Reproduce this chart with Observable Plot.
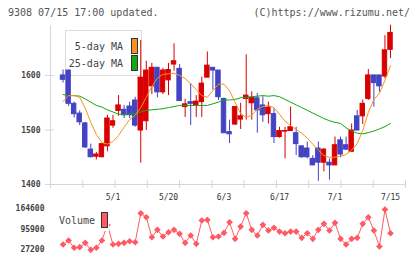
<!DOCTYPE html>
<html>
<head>
<meta charset="utf-8">
<script src="https://cdn.jsdelivr.net/npm/d3@7"></script>
<script src="https://cdn.jsdelivr.net/npm/@observablehq/plot@0.6"></script>
<style>
  html, body { margin: 0; padding: 0; background: #fff; }
  #chart { position: relative; width: 420px; height: 259px; overflow: hidden;
           font-family: "DejaVu Sans Mono", monospace; color: #444; }
  #chart svg { position: absolute; left: 0; top: 0; }
  .hdr { position: absolute; top: 6px; font-size: 10px; line-height: 14px; white-space: pre; color: #555; }
  .legend { position: absolute; left: 65px; top: 30px; width: 77px; height: 46px;
            border: 1px solid #ddd; box-sizing: border-box; }
  .lg-row { position: absolute; right: 18px; font-size: 10px; line-height: 12px; white-space: pre; color: #444; }
  .sw { position: absolute; width: 5px; height: 14px; border: 1px solid #333; }
  .vlegend { position: absolute; left: 57px; top: 211px; width: 52px; height: 20px; background: #fff; }
</style>
</head>
<body>
<div id="chart">
  <div class="hdr" style="left:8px">9308 07/15 17:00 updated.</div>
  <div class="hdr" style="right:10px">(C)https://www.rizumu.net/</div>
  <div class="legend">
    <div class="lg-row" style="top:10px">5-day MA</div>
    <div class="sw" style="left:65px;top:7px;background:#f7931e"></div>
    <div class="lg-row" style="top:27px">25-day MA</div>
    <div class="sw" style="left:65px;top:24px;background:#13a813"></div>
  </div>
</div>
<script>
// Daily candles, oldest first
const opens  = [1600,1600,1609,1548,1530,1512,1464,1451,1450,1470,1508,1535,1537,1543,1554,1499,1516,1580,1614,1569,1591,1620,1612,1542,1551,1545,1551,1596,1614,1609,1557,1496,1510,1519,1557,1549,1558,1545,1529,1529,1487,1497,1498,1494,1470,1466,1447,1466,1440,1440,1435,1481,1472,1460,1525,1525,1557,1600,1600,1598,1647];
const highs  = [1600,1610,1610,1551,1535,1514,1474,1459,1475,1527,1527,1563,1545,1551,1560,1664,1626,1622,1615,1613,1622,1658,1620,1556,1585,1563,1597,1643,1614,1609,1558,1518,1543,1549,1638,1570,1567,1561,1551,1539,1505,1505,1542,1505,1470,1478,1453,1478,1466,1447,1487,1487,1487,1511,1536,1555,1611,1600,1600,1673,1692];
const lows   = [1600,1586,1543,1522,1508,1466,1449,1445,1449,1460,1503,1525,1521,1521,1505,1439,1499,1565,1559,1565,1563,1608,1553,1523,1508,1523,1523,1596,1573,1554,1494,1475,1508,1501,1518,1518,1494,1514,1511,1475,1485,1447,1498,1453,1448,1447,1435,1406,1423,1408,1435,1449,1462,1460,1499,1510,1554,1542,1569,1594,1631];
const closes = [1600,1592,1548,1529,1514,1468,1450,1455,1474,1521,1516,1545,1527,1527,1508,1596,1609,1614,1569,1609,1610,1626,1553,1547,1548,1552,1585,1618,1609,1560,1494,1492,1542,1525,1563,1559,1536,1527,1541,1487,1498,1498,1505,1474,1450,1450,1435,1440,1464,1435,1472,1455,1464,1499,1499,1548,1600,1586,1580,1646,1678];

// Moving averages (first day has no value drawn)
const ma5  = [null,1552,1563,1563,1560,1540,1514,1492,1477,1474,1479,1490,1505,1519,1527,1541,1560,1580,1595,1602,1603,1604,1600,1594,1585,1574,1563,1560,1572,1584,1584,1572,1551,1530,1523,1527,1538,1543,1545,1541,1529,1516,1508,1501,1494,1485,1474,1463,1453,1450,1450,1452,1455,1463,1475,1499,1532,1556,1567,1591,1618];
const ma25 = [null,1565,1563,1563,1562,1557,1551,1545,1542,1537,1533,1529,1528,1529,1530,1533,1536,1537,1538,1539,1541,1543,1545,1545,1545,1545,1545,1545,1548,1551,1555,1555,1556,1559,1560,1561,1562,1563,1562,1563,1561,1556,1551,1546,1541,1536,1531,1526,1521,1517,1514,1512,1504,1498,1494,1493,1495,1498,1502,1506,1512];

// Daily volume
const volumes = [null,44000,57500,33000,35000,49800,26000,33000,57500,110000,44000,46400,49800,55000,51800,149400,136000,68600,93500,71000,85500,93500,80100,49800,74400,46400,125000,127200,68600,71000,83400,119100,63200,104600,149400,93500,74400,110400,91200,100300,87800,82100,87800,87800,66600,82100,63200,93500,113800,91200,117100,63200,44000,63200,66600,113800,136000,91200,37300,161900,82100];

// Axis labels
const dateIdx    = [11, 21, 31, 41, 51, 61];
const dateLabels = ["5/1", "5/20", "6/3", "6/17", "7/1", "7/15"];
const priceTicks = [1400, 1500, 1600];
const volTicks   = [27200, 95900, 164600];

const RED = "#d80000", BLUE = "#4343c3", ORANGE = "#f7931e", GREEN = "#13a813", VOLC = "#ff5a64", AXIS = "#d6d6d6";

const W = 420, H = 259, ML = 50, MR = 15;
const X_DOMAIN = [-0.26, 63.7];
const Y_DOMAIN = [1400, 1691.6];
const pxX = (X_DOMAIN[1] - X_DOMAIN[0]) / (W - ML - MR);   // index units per pixel
const pxY = (Y_DOMAIN[1] - Y_DOMAIN[0]) / 159;               // price units per pixel
const gridTicks = d3.range(12).map(k => X_DOMAIN[0] + k * (X_DOMAIN[1] - X_DOMAIN[0]) / 11);

const candles = closes.map((c, k) => ({i: k + 1, o: opens[k], h: highs[k], l: lows[k], c}));
const colorOf = d => d.c >= d.o ? RED : BLUE;
const lines = ma5.map((v, k) => ({i: k + 1, m5: v, m25: ma25[k]}));
const vols = volumes.map((v, k) => ({i: k + 1, v}));

const main = Plot.plot({
  width: W, height: H,
  marginLeft: ML, marginRight: MR, marginTop: 25, marginBottom: H - 184,
  x: {type: "linear", domain: X_DOMAIN, axis: null},
  y: {type: "linear", domain: Y_DOMAIN, axis: null},
  style: {background: "transparent", fontFamily: "DejaVu Sans Mono", fontSize: "8px", color: "#333", overflow: "visible"},
  marks: [
    Plot.ruleX([X_DOMAIN[0]], {stroke: AXIS}),
    Plot.ruleY([Y_DOMAIN[0]], {stroke: AXIS}),
    Plot.ruleY(priceTicks, {y: d => d, x1: X_DOMAIN[0] - 5 * pxX, x2: X_DOMAIN[0] + 4 * pxX, stroke: AXIS}),
    Plot.ruleX(gridTicks, {x: d => d, y1: Y_DOMAIN[0] - 4 * pxY, y2: Y_DOMAIN[0] + 4 * pxY, stroke: AXIS}),
    Plot.text(priceTicks, {x: X_DOMAIN[0], y: d => d, text: d => String(d), textAnchor: "end", dx: -10, fontWeight: "bold", fill: "#444"}),
    Plot.text(dateIdx, {x: d => d, y: Y_DOMAIN[0], text: (d, k) => dateLabels[k], dy: 13, fill: "#333"}),
    Plot.ruleX(candles, {x: "i", y1: "l", y2: "h", stroke: colorOf, strokeWidth: 1}),
    Plot.rect(candles, {x1: d => d.i - 0.4, x2: d => d.i + 0.4, y1: "o", y2: "c", fill: colorOf, stroke: colorOf, strokeWidth: 1}),
    Plot.line(lines, {x: "i", y: "m25", stroke: GREEN, strokeWidth: 1}),
    Plot.line(lines, {x: "i", y: "m5", stroke: ORANGE, strokeWidth: 1})
  ]
});

const vol = Plot.plot({
  width: W, height: H,
  marginLeft: ML, marginRight: MR, marginTop: 208.3, marginBottom: H - 249,
  x: {type: "linear", domain: X_DOMAIN, axis: null},
  y: {type: "linear", domain: [27200, 164600], axis: null},
  style: {background: "transparent", fontFamily: "DejaVu Sans Mono", fontSize: "8px", color: "#333", overflow: "visible"},
  marks: [
    Plot.line(vols, {x: "i", y: "v", stroke: VOLC, strokeWidth: 1}),
    Plot.dot(vols, {x: "i", y: "v", symbol: "diamond2", r: 3, fill: VOLC, stroke: "none"}),
    Plot.text(volTicks, {x: X_DOMAIN[0], y: d => d, text: d => String(d), textAnchor: "end", dx: -6, fontWeight: "bold", fill: "#444"})
  ]
});

const chart = document.getElementById("chart");
chart.appendChild(main);
chart.appendChild(vol);

// Volume legend sits on top of the lower panel
const vl = document.createElement("div");
vl.className = "vlegend";
vl.innerHTML = '<div style="position:absolute;left:2px;top:4px;font-size:10px;line-height:12px;color:#444">Volume</div>' +
               '<div class="sw" style="left:44px;top:1px;background:' + VOLC + '"></div>';
chart.appendChild(vl);
</script>
</body>
</html>
